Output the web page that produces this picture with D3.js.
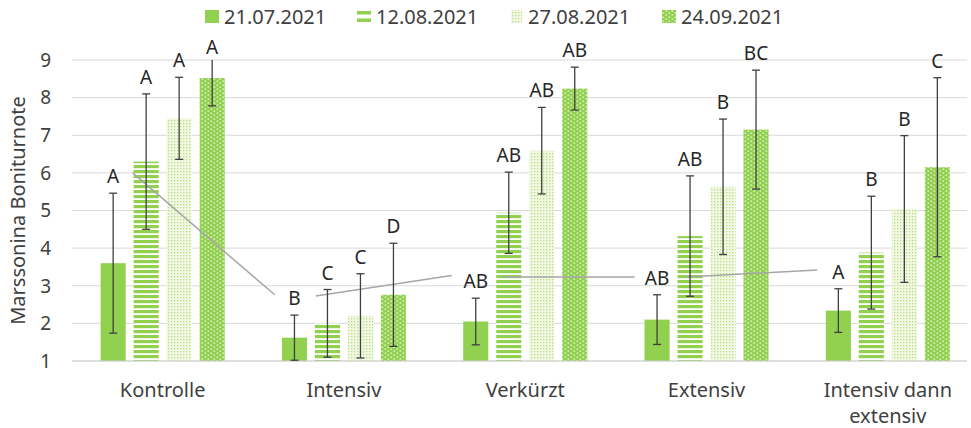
<!DOCTYPE html>
<html>
<head>
<meta charset="utf-8">
<script src="https://cdn.jsdelivr.net/npm/d3@7"></script>
<style>
  html, body { margin: 0; padding: 0; background: #fff; }
  svg { display: block; font-family: "Noto Sans", "Open Sans", sans-serif; }
</style>
</head>
<body>
<svg id="chart" width="971" height="428"></svg>
<script>
// ---- data ----
const categories = ["Kontrolle", "Intensiv", "Verkürzt", "Extensiv", "Intensiv dann extensiv"];
const seriesNames = ["21.07.2021", "12.08.2021", "27.08.2021", "24.09.2021"];
const values21_07 = [3.6, 1.62, 2.05, 2.1, 2.34];
const values12_08 = [6.3, 2.0, 4.94, 4.32, 3.88];
const values27_08 = [7.45, 2.2, 6.59, 5.63, 5.04];
const values24_09 = [8.52, 2.76, 8.24, 7.15, 6.15];
const errors21_07 = [1.86, 0.6, 0.62, 0.66, 0.58];
const errors12_08 = [1.8, 0.9, 1.08, 1.6, 1.5];
const errors27_08 = [1.09, 1.12, 1.15, 1.8, 1.95];
const errors24_09 = [0.74, 1.37, 0.57, 1.58, 2.38];
const letters21_07 = ["A", "B", "AB", "AB", "A"];
const letters12_08 = ["A", "C", "AB", "AB", "B"];
const letters27_08 = ["A", "C", "AB", "B", "B"];
const letters24_09 = ["A", "D", "AB", "BC", "C"];
const yTicks = [1, 2, 3, 4, 5, 6, 7, 8, 9];
// stray grey connector lines in data units: [group position, value]
const connectorLines = [
  [[0.335, 6.0], [1.118, 2.76]],
  [[1.344, 2.73], [2.094, 3.27]],
  [[2.376, 3.23], [3.104, 3.23]],
  [[3.39, 3.23], [4.11, 3.42]]
];

const valueSets = [values21_07, values12_08, values27_08, values24_09];
const errorSets = [errors21_07, errors12_08, errors27_08, errors24_09];
const letterSets = [letters21_07, letters12_08, letters27_08, letters24_09];

// ---- layout ----
const svg = d3.select("#chart");
const plotLeft = 72, plotRight = 967, plotTop = 60, plotBottom = 361;
const green = "#92d050";
const textColor = "#404040";

const y = d3.scaleLinear().domain([1, 9]).range([plotBottom, plotTop]);
const x0 = d3.scaleBand().domain(categories).range([plotLeft, plotLeft + 5 * 181.3])
  .paddingInner(0.272).paddingOuter(0.136);
const x1 = d3.scaleBand().domain(seriesNames).range([0, x0.bandwidth()])
  .paddingInner(0.24).paddingOuter(0.12);

// ---- patterns ----
const defs = svg.append("defs");
const pStripe = defs.append("pattern").attr("id", "pStripe").attr("patternUnits", "userSpaceOnUse")
  .attr("width", 8).attr("height", 5);
pStripe.append("rect").attr("width", 8).attr("height", 5).attr("fill", "#fff");
pStripe.append("rect").attr("width", 8).attr("height", 3.2).attr("fill", green);

const pFine = defs.append("pattern").attr("id", "pFine").attr("patternUnits", "userSpaceOnUse")
  .attr("width", 3).attr("height", 3);
pFine.append("rect").attr("width", 3).attr("height", 3).attr("fill", "#f3f8e3");
pFine.append("rect").attr("x", 0).attr("y", 0).attr("width", 1.3).attr("height", 1.3).attr("fill", "#b9dc86");

const pDots = defs.append("pattern").attr("id", "pDots").attr("patternUnits", "userSpaceOnUse")
  .attr("width", 6).attr("height", 4);
pDots.append("rect").attr("width", 6).attr("height", 4).attr("fill", green);
pDots.append("rect").attr("x", 0.5).attr("y", 0.5).attr("width", 1.6).attr("height", 1.3).attr("fill", "#e8f5d6");
pDots.append("rect").attr("x", 3.5).attr("y", 2.5).attr("width", 1.6).attr("height", 1.3).attr("fill", "#e8f5d6");

const fills = [green, "url(#pStripe)", "url(#pFine)", "url(#pDots)"];

// ---- gridlines ----
svg.append("g").selectAll("line").data(yTicks).join("line")
  .attr("x1", plotLeft).attr("x2", plotRight)
  .attr("y1", d => y(d)).attr("y2", d => y(d))
  .attr("stroke", "#d9d9d9").attr("stroke-width", 1);

// y tick labels
svg.append("g").selectAll("text").data(yTicks).join("text")
  .attr("x", 51).attr("y", d => y(d)).attr("dy", "0.36em")
  .attr("text-anchor", "end").attr("font-size", 19).attr("fill", textColor)
  .text(d => d);

// y title
svg.append("text")
  .attr("transform", `translate(25,${(plotTop + plotBottom) / 2}) rotate(-90)`)
  .attr("text-anchor", "middle").attr("font-size", 20).attr("fill", textColor)
  .text("Marssonina Boniturnote");

// ---- bars ----
const rows = [];
categories.forEach((c, i) => {
  seriesNames.forEach((s, j) => {
    rows.push({ cat: c, ser: s, j, v: valueSets[j][i], e: errorSets[j][i], l: letterSets[j][i] });
  });
});

svg.append("g").selectAll("rect").data(rows).join("rect")
  .attr("x", d => x0(d.cat) + x1(d.ser))
  .attr("width", x1.bandwidth())
  .attr("y", d => y(d.v))
  .attr("height", d => y(1) - y(d.v))
  .attr("fill", d => fills[d.j]);

// axis baseline
svg.append("line").attr("x1", plotLeft).attr("x2", plotRight)
  .attr("y1", y(1)).attr("y2", y(1)).attr("stroke", "#d0d0d0").attr("stroke-width", 1);

// connector lines
const line = d3.line().x(d => plotLeft + d[0] * x0.step()).y(d => y(d[1]));
svg.append("g").selectAll("path").data(connectorLines).join("path")
  .attr("d", line).attr("fill", "none").attr("stroke", "#a6a6a6").attr("stroke-width", 1.5);

// error bars + letters
const gErr = svg.append("g").attr("stroke", "#404040").attr("stroke-width", 1.3);
rows.forEach(d => {
  const cx = x0(d.cat) + x1(d.ser) + x1.bandwidth() / 2;
  const hiV = d.v + d.e, loV = d.v - d.e;
  const hi = y(Math.min(9, hiV)), lo = y(Math.max(1, loV));
  gErr.append("line").attr("x1", cx).attr("x2", cx).attr("y1", hi).attr("y2", lo);
  if (hiV <= 9) gErr.append("line").attr("x1", cx - 4).attr("x2", cx + 4).attr("y1", hi).attr("y2", hi);
  if (loV >= 1) gErr.append("line").attr("x1", cx - 4).attr("x2", cx + 4).attr("y1", lo).attr("y2", lo);
  svg.append("text").attr("x", cx).attr("y", Math.max(hi - 10, 54))
    .attr("text-anchor", "middle").attr("font-size", 19).attr("fill", "#262626")
    .text(d.l);
});

// x labels
const xl = svg.append("g");
categories.forEach(c => {
  const cx = x0(c) + x0.bandwidth() / 2;
  const parts = c === "Intensiv dann extensiv" ? ["Intensiv dann", "extensiv"] : [c];
  parts.forEach((p, k) => {
    xl.append("text").attr("x", cx).attr("y", 397 + k * 26)
      .attr("text-anchor", "middle").attr("font-size", 20).attr("fill", textColor).text(p);
  });
});

// ---- legend ----
const legendX = [205, 357, 509, 662];
const lg = svg.append("g");
seriesNames.forEach((s, j) => {
  const g = lg.append("g").attr("transform", `translate(${legendX[j]},0)`);
  if (j === 1) {
    g.append("rect").attr("x", 0).attr("y", 11).attr("width", 14).attr("height", 3.5).attr("fill", green);
    g.append("rect").attr("x", 0).attr("y", 18.5).attr("width", 14).attr("height", 3.5).attr("fill", green);
  } else {
    g.append("rect").attr("x", j === 2 ? 2 : 0).attr("y", 10).attr("width", j === 2 ? 11 : 14).attr("height", 13).attr("fill", fills[j]);
  }
  g.append("text").attr("x", 19).attr("y", 24).attr("font-size", 20).attr("fill", textColor).text(s);
});
</script>
</body>
</html>
